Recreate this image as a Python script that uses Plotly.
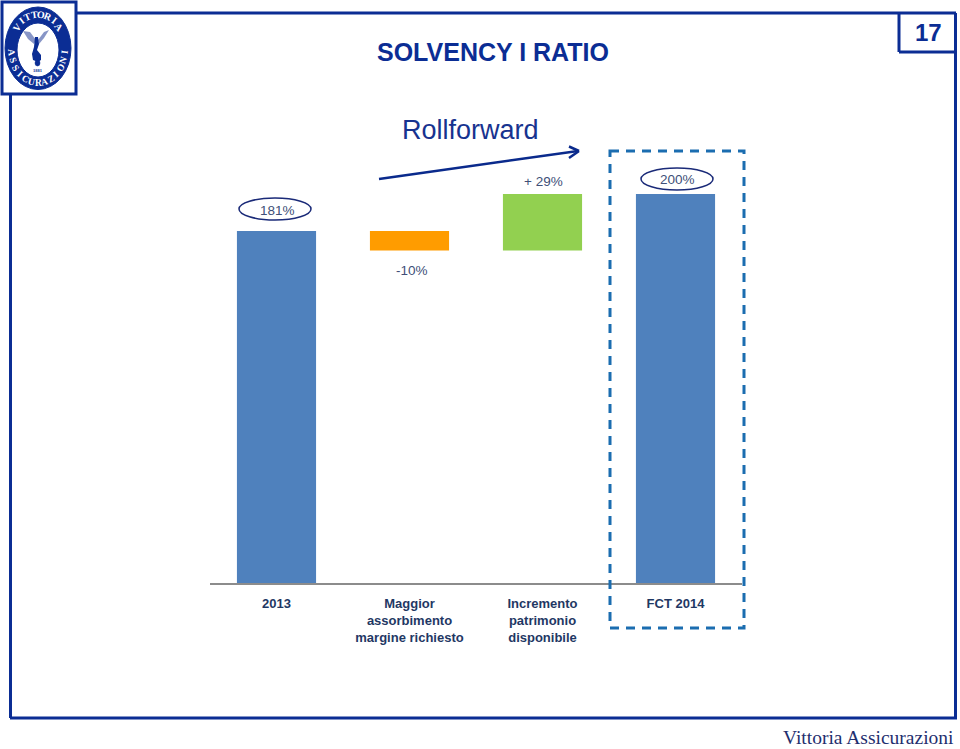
import math
import plotly.graph_objects as go

W, H = 960, 749
categories = ["2013", "Maggior<br>assorbimento<br>margine richiesto", "Incremento<br>patrimonio<br>disponibile", "FCT 2014"]
positions = [0, 1, 2, 3]
bar_base = [0, 171, 171, 0]
bar_height = [181, 10, 29, 200]
bar_colors = ["#4f81bd", "#ff9c00", "#92d050", "#4f81bd"]
bar_labels = ["181%", "-10%", "+ 29%", "200%"]
label_values = [181, 171, 200, 200]
label_shift = [21, -20, 13, 15]
label_xshift = [1, 2.5, 0.5, 1.5]

NAVY = "#0b2d94"
TXT = "#1f3864"
L, R, T, B = 210, 742, 100, 583


def px(x):
    return x / W


def py(y):
    return 1 - y / H


fig = go.Figure(go.Bar(
    x=positions, y=bar_height, base=bar_base, marker_color=bar_colors,
    marker_line_width=0, width=0.595, hoverinfo="skip", showlegend=False,
))

shapes = []
annos = []


def line(x0, y0, x1, y1, color=NAVY, width=3, dash=None):
    shapes.append(dict(type="line", xref="paper", yref="paper", x0=px(x0), y0=py(y0), x1=px(x1), y1=py(y1),
                       line=dict(color=color, width=width, dash=dash)))


def oval(x0, y0, x1, y1, fill=None, color=NAVY, width=1.5):
    shapes.append(dict(type="circle", xref="paper", yref="paper", x0=px(x0), y0=py(y0), x1=px(x1), y1=py(y1),
                       fillcolor=fill, line=dict(color=color, width=width), layer="above"))


def text(x, y, s, size, color=TXT, family="Liberation Sans", anchor="center", angle=0):
    annos.append(dict(xref="paper", yref="paper", x=px(x), y=py(y), text=s, showarrow=False,
                      font=dict(size=size, color=color, family=family), xanchor=anchor, yanchor="middle",
                      textangle=angle))


def polygon(points, fill):
    coords = [f"{px(x):.5f} {py(y):.5f}" for x, y in points]
    shapes.append(dict(type="path", xref="paper", yref="paper", layer="above",
                       path="M " + " L ".join(coords) + " Z", fillcolor=fill, line=dict(width=0)))


# frame
line(76, 13, 956, 13)
line(10.5, 94, 10.5, 718)
line(955.5, 13, 955.5, 718)
line(10, 718, 957, 718)
# page number box
line(899, 13, 899, 52)
line(899, 52, 955, 52)
text(928, 33, "<b>17</b>", 24, "#0b2d94")
# logo box
shapes.append(dict(type="rect", xref="paper", yref="paper", x0=px(2), y0=py(2), x1=px(76), y1=py(94),
                   fillcolor="white", line=dict(color=NAVY, width=3), layer="above"))
oval(5, 7, 71, 89.5, fill=NAVY, width=1)
oval(17, 23, 59, 77, fill="white", width=1)
# angel: wings, body, globe
polygon([(23, 31), (30, 32), (36, 40), (34, 44), (28, 39)], "#8795c6")
polygon([(49, 30), (44, 32), (38, 40), (39, 44), (44, 38)], "#8795c6")
polygon([(35, 37), (38, 37), (39, 44), (37, 50), (41, 55), (41, 60), (38, 62), (33, 60), (32, 54), (34, 47)], NAVY)
oval(35, 60, 40, 66, fill=NAVY, width=0.5)
text(38, 70, "<b>1881</b>", 4.5, NAVY, "Liberation Serif")


def arc_text(s, a0, a1, size, bottom=False):
    n = len(s)
    cx, cy, rx, ry = 38, 48.5, 27, 34.5
    for i, ch in enumerate(s):
        a = math.radians(a0 + (a1 - a0) * i / (n - 1))
        x = cx + rx * math.sin(a)
        y = cy - ry * math.cos(a)
        rot = math.degrees(a)
        if bottom:
            rot = rot - 180
        text(x, y, f"<b>{ch}</b>", size, "white", "Liberation Serif", angle=rot)


arc_text("VITTORIA", -52, 52, 10)
arc_text("ASSICURAZIONI", 264, 96, 9.5, bottom=True)

# titles
text(493, 52, "<b>SOLVENCY I RATIO</b>", 25, NAVY)
text(470.5, 130, "Rollforward", 27, "#17338f")
text(868, 737, "Vittoria Assicurazioni", 19.5, "#1f2f6f", "Liberation Serif")

# arrow
line(379, 179, 578, 151, "#0a2a8c", 2.5)
line(569, 146.5, 579, 151, "#0a2a8c", 2.5)
line(569, 158, 579, 151, "#0a2a8c", 2.5)
# dashed highlight
shapes.append(dict(type="rect", xref="paper", yref="paper", x0=px(610), y0=py(151), x1=px(744), y1=py(628),
                   line=dict(color="#1b6db0", width=3, dash="9px,7px"), layer="above"))
# ovals around 181 and 200 labels
oval(239, 198, 311, 220, color="#1a2a78")
oval(641, 168, 713, 190, color="#1a2a78")

# value labels tied to the data axes
for p, v, s, dx, lab in zip(positions, label_values, label_shift, label_xshift, bar_labels):
    annos.append(dict(x=p, y=v, xref="x", yref="y", text=lab, showarrow=False, yshift=s, xshift=dx,
                      font=dict(size=13.5, color="#404f78", family="Liberation Sans")))

fig.update_layout(
    width=W, height=H, paper_bgcolor="white", plot_bgcolor="white", showlegend=False,
    margin=dict(l=0, r=0, t=0, b=0, pad=0),
    shapes=shapes, annotations=annos,
    xaxis=dict(domain=[L / W, R / W], range=[-0.5, 3.5], tickmode="array", tickvals=positions, ticktext=categories,
               showgrid=False, zeroline=False, automargin=False,
               showline=True, linecolor="#8c8c8c", linewidth=1.5, ticks="", ticklabelstandoff=8,
               tickangle=0,
               tickfont=dict(size=13, color=TXT, family="Liberation Sans", weight="bold")),
    yaxis=dict(domain=[1 - B / H, 1 - T / H], range=[0, 248.4], visible=False),
)
fig.write_html("out.html", config={"displayModeBar": False},
               post_script="document.body.style.margin='0';")
